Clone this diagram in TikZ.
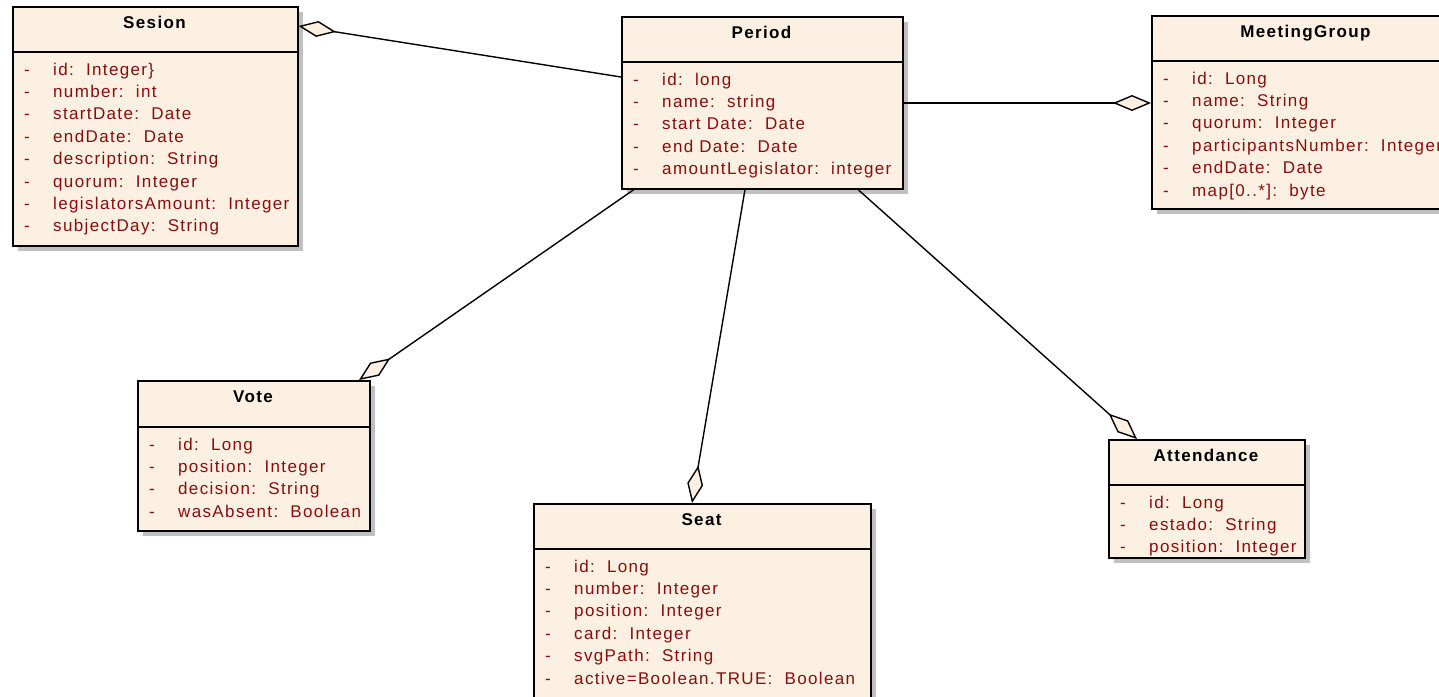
\documentclass[tikz,border=0pt]{standalone}
\usepackage{fontspec}
\setmainfont{Liberation Sans}
\newfontfamily\spacedsans[LetterSpace=8]{Liberation Sans}
\usetikzlibrary{arrows.meta,shadows,calc}

\definecolor{classfill}{RGB}{251,240,226}
\definecolor{attrred}{RGB}{140,12,12}
\definecolor{shadowgray}{RGB}{192,192,192}

\tikzset{
  classbox/.style={draw=black, line width=1.5pt, fill=classfill, anchor=north west,
    inner sep=0pt, general shadow={fill=shadowgray, shadow xshift=5pt, shadow yshift=-5pt}},
  divider/.style={line width=1.5pt},
  titletext/.style={font=\spacedsans\fontsize{17}{20}\selectfont\bfseries, anchor=base, inner sep=0pt},
  dashtext/.style={text=attrred, font=\spacedsans\fontsize{17}{20}\selectfont, anchor=base west, inner sep=0pt},
  attrtext/.style={text=attrred, font=\spacedsans\fontsize{17}{20}\selectfont, anchor=base west, inner sep=0pt},
  agg/.style={draw=black, line width=1.4pt,
    -{Diamond[length=38pt, width=16pt, fill=classfill, line join=miter]}}
}

% #1 name, #2 left, #3 top, #4 right, #5 bottom, #6 divider y, #7 title
\newcommand\umlclass[7]{%
  \node[classbox, minimum width={#4-#2}, minimum height={#5-#3}] (#1) at (#2,#3) {};
  \draw[divider] (#2,#6) -- (#4,#6);
  \node[titletext] (#1-title) at ({(#2+#4)/2},{#3+22}) {#7};
}
% #1 name, #2 left, #3 divider y, #4 attribute list
\newcommand\umlattrs[4]{%
  \foreach \attr [count=\i] in {#4} {
    \node[dashtext] (#1-dash\i) at ({#2+12},{#3+23+22.4*(\i-1)}) {-};
    \node[attrtext] (#1-attr\i) at ({#2+41},{#3+23+22.4*(\i-1)}) {\attr};
  }
}

\begin{document}
\begin{tikzpicture}[x=1pt, y=-1pt]
  \useasboundingbox (0,0) rectangle (1439,696);
  \clip (0,0) rectangle (1439,696);

  % classes
  \umlclass{sesion}{12}{6}{297}{245}{52}{Sesion}
  \umlattrs{sesion}{12}{52}{id:~~Integer\}, number:~~int, startDate:~~Date, endDate:~~Date,
    description:~~String, quorum:~~Integer, legislatorsAmount:~~Integer, subjectDay:~~String}

  \umlclass{period}{621}{16}{902}{188}{62}{Period}
  \umlattrs{period}{621}{62}{id:~~long, name:~~string, start Date:~~Date, end Date:~~Date,
    amountLegislator:~~integer}

  \umlclass{meeting}{1151}{15}{1460}{208}{61}{MeetingGroup}
  \umlattrs{meeting}{1151}{61}{id:~~Long, name:~~String, quorum:~~Integer,
    participantsNumber:~~Integer, endDate:~~Date, map[0..*]:~~byte}

  \umlclass{vote}{137}{380}{369}{530}{427}{Vote}
  \umlattrs{vote}{137}{427}{id:~~Long, position:~~Integer, decision:~~String, wasAbsent:~~Boolean}

  \umlclass{seat}{533}{503}{870}{720}{549}{Seat}
  \umlattrs{seat}{533}{549}{id:~~Long, number:~~Integer, position:~~Integer, card:~~Integer,
    svgPath:~~String, active=Boolean.TRUE:~~Boolean}

  \umlclass{attendance}{1108}{439}{1304}{557}{485}{Attendance}
  \umlattrs{attendance}{1108}{485}{id:~~Long, estado:~~String, position:~~Integer}

  % aggregations (diamond on the whole side)
  \draw[agg] ($(period.north west)+(0,61)$) -- ($(sesion.north east)+(0,20)$);
  \draw[agg] ($(period.north east)+(0,87)$) -- ($(meeting.north west)+(0,88)$);
  \draw[agg] ($(period.south west)+(13,0)$) -- ($(vote.north west)+(222,0)$);
  \draw[agg] ($(period.south west)+(124,0)$) -- ($(seat.north west)+(159,0)$);
  \draw[agg] ($(period.south west)+(237,0)$) -- ($(attendance.north west)+(29,0)$);
\end{tikzpicture}
\end{document}
